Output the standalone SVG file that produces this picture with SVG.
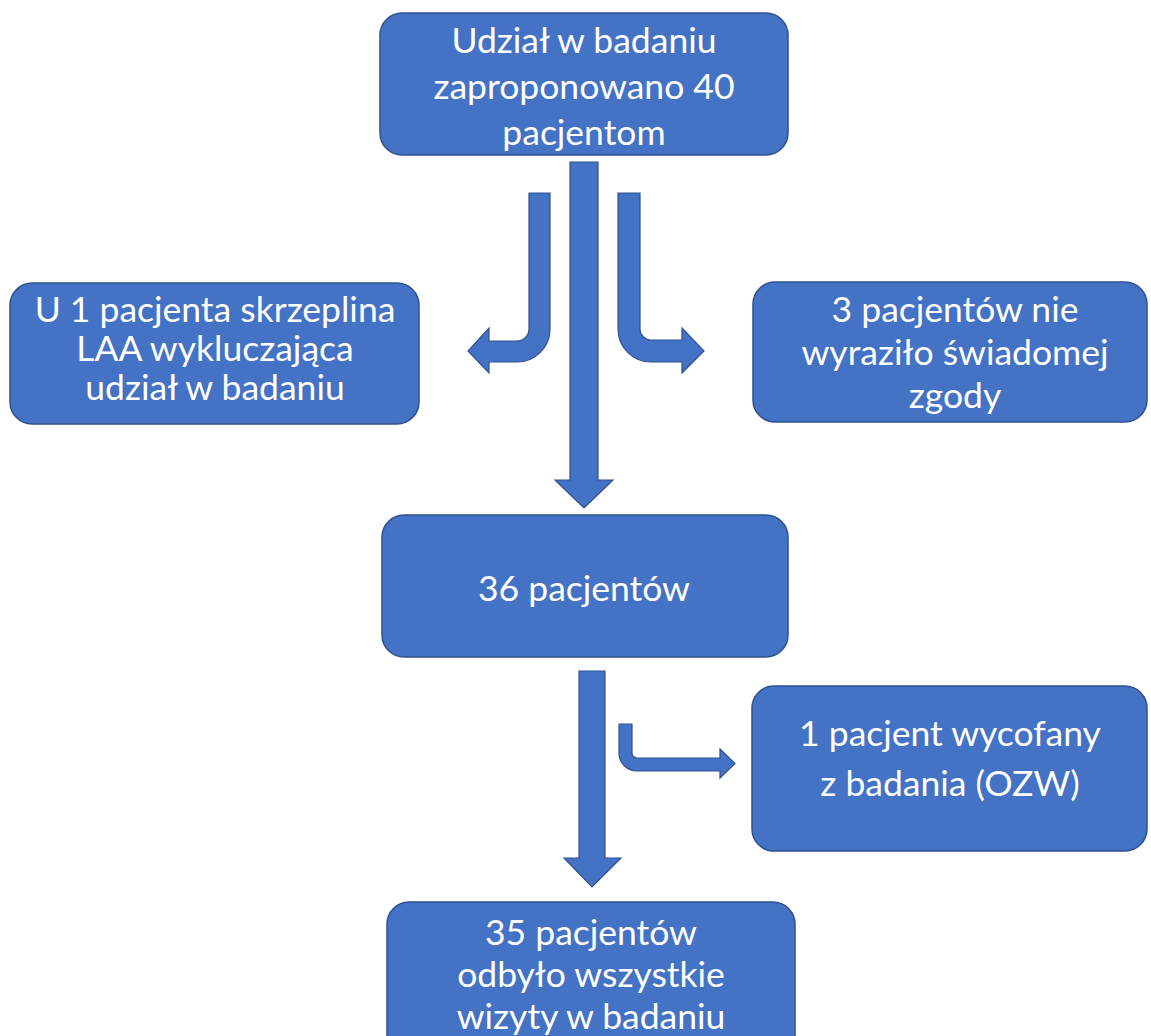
<svg xmlns="http://www.w3.org/2000/svg" width="1151" height="1036" viewBox="0 0 1151 1036">
<style>
.box{fill:#4472C4;stroke:#2F528F;stroke-width:1.5}
.arr{fill:#4472C4;stroke:#2F528F;stroke-width:1.2;stroke-linejoin:miter}
.t{font-family:Lato,"Open Sans","Liberation Sans",sans-serif;font-size:35.5px;fill:#FFFFFF;text-anchor:middle}
</style>
<rect width="1151" height="1036" fill="#FFFFFF"/>
<g id="connectors">
<path class="arr" d="M570,162 L598,162 L598,480 L613,480 L584,508 L555,480 L570,480 Z"/>
<path class="arr" d="M529,193 L550,193 L550,329 A33,33 0 0 1 517,362 L489,362 L489,373 L468,351 L489,328 L489,341 L517,341 A12,12 0 0 0 529,329 Z"/>
<path class="arr" d="M640,193 L618,193 L618,329 A33,33 0 0 0 651,362 L682,362 L682,373 L704,351 L682,328 L682,340 L651,340 A11,11 0 0 1 640,329 Z"/>
<path class="arr" d="M579,671 L605,671 L605,858 L621,858 L592,887 L564,858 L579,858 Z"/>
<path class="arr" d="M632,724 L619,724 L619,753 A18,18 0 0 0 637,771 L720,771 L720,778 L735,763.5 L720,749 L720,758 L637,758 A5,5 0 0 1 632,753 Z"/>
</g>
<g id="node-top">
<rect class="box" x="380" y="13" width="408" height="142" rx="22"/>
<text class="t" x="584" y="53">Udział w badaniu</text>
<text class="t" x="584" y="99">zaproponowano 40</text>
<text class="t" x="584" y="145">pacjentom</text>
</g>
<g id="node-left">
<rect class="box" x="10" y="283" width="409" height="141" rx="22"/>
<text class="t" x="215" y="322">U 1 pacjenta skrzeplina</text>
<text class="t" x="215" y="361">LAA wykluczająca</text>
<text class="t" x="215" y="400">udział w badaniu</text>
</g>
<g id="node-right">
<rect class="box" x="753" y="282" width="394" height="140" rx="22"/>
<text class="t" x="955" y="322">3 pacjentów nie</text>
<text class="t" x="955" y="365">wyraziło świadomej</text>
<text class="t" x="955" y="408">zgody</text>
</g>
<g id="node-middle">
<rect class="box" x="382" y="515" width="406" height="142" rx="22"/>
<text class="t" x="584" y="601">36 pacjentów</text>
</g>
<g id="node-withdrawn">
<rect class="box" x="752" y="686" width="395" height="165" rx="22"/>
<text class="t" x="950" y="746">1 pacjent wycofany</text>
<text class="t" x="950" y="796">z badania (OZW)</text>
</g>
<g id="node-bottom">
<rect class="box" x="387" y="902" width="408" height="160" rx="22"/>
<text class="t" x="591" y="945">35 pacjentów</text>
<text class="t" x="591" y="987">odbyło wszystkie</text>
<text class="t" x="591" y="1029">wizyty w badaniu</text>
</g>
</svg>
